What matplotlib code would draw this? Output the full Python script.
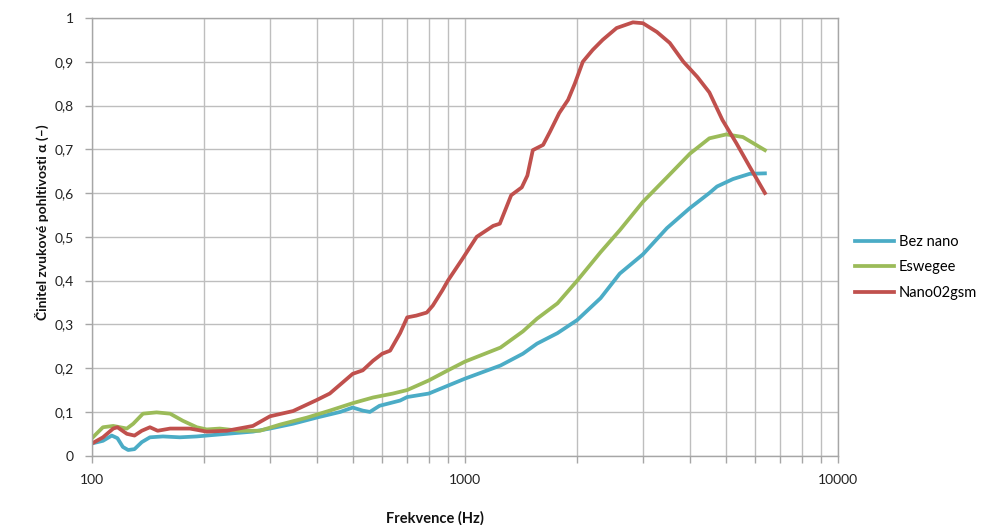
import matplotlib.pyplot as plt
from matplotlib.ticker import FixedLocator, LogLocator, NullFormatter, FuncFormatter

# Bez nano
freq_bez = [100, 107, 113, 117, 121, 125, 130, 136, 143, 155, 172, 191, 203, 230, 270,
            300, 346, 400, 463, 500, 532, 556, 590, 670, 700, 800, 900, 1000, 1245, 1430,
            1560, 1770, 2000, 2310, 2600, 3000, 3480, 4000, 4520, 4740, 5230, 5800, 6370]
alpha_bez = [0.028, 0.034, 0.046, 0.040, 0.020, 0.013, 0.015, 0.031, 0.042, 0.044, 0.042,
             0.044, 0.046, 0.050, 0.055, 0.062, 0.073, 0.087, 0.100, 0.110, 0.103, 0.100,
             0.114, 0.126, 0.134, 0.142, 0.160, 0.176, 0.206, 0.233, 0.256, 0.280, 0.310,
             0.360, 0.416, 0.460, 0.520, 0.565, 0.600, 0.615, 0.632, 0.644, 0.645]

# Eswegee
freq_esw = [100, 107, 114, 119, 124, 129, 137, 149, 162, 175, 191, 203, 220, 249, 282,
            319, 377, 434, 500, 567, 641, 700, 800, 900, 1000, 1245, 1430, 1560, 1770,
            2000, 2310, 2600, 3000, 3480, 4010, 4520, 5020, 5560, 6370]
alpha_esw = [0.040, 0.065, 0.068, 0.065, 0.062, 0.073, 0.096, 0.099, 0.096, 0.080, 0.065,
             0.060, 0.062, 0.057, 0.057, 0.071, 0.087, 0.103, 0.120, 0.133, 0.142, 0.150,
             0.172, 0.195, 0.215, 0.247, 0.284, 0.313, 0.348, 0.400, 0.465, 0.515, 0.580,
             0.636, 0.690, 0.725, 0.734, 0.728, 0.698]

# Nano02gsm
freq_nano = [100, 107, 114, 117, 124, 130, 136, 143, 150, 162, 183, 203, 230, 270, 300,
             346, 400, 434, 500, 532, 567, 600, 630, 670, 700, 740, 790, 820, 870, 900,
             985, 1075, 1190, 1240, 1330, 1420, 1470, 1520, 1620, 1690, 1790, 1890, 1970,
             2070, 2200, 2340, 2550, 2820, 3000, 3270, 3540, 3850, 4200, 4520, 4900,
             5340, 5800, 6370]
alpha_nano = [0.028, 0.042, 0.062, 0.065, 0.050, 0.046, 0.057, 0.065, 0.057, 0.062, 0.062,
              0.055, 0.057, 0.068, 0.090, 0.102, 0.127, 0.142, 0.187, 0.195, 0.217, 0.233,
              0.240, 0.280, 0.316, 0.320, 0.327, 0.343, 0.378, 0.400, 0.450, 0.500, 0.525,
              0.530, 0.595, 0.613, 0.640, 0.698, 0.710, 0.740, 0.783, 0.813, 0.850, 0.900,
              0.927, 0.950, 0.977, 0.990, 0.988, 0.968, 0.943, 0.900, 0.865, 0.830, 0.767,
              0.714, 0.660, 0.600]

y_ticks = [0, 0.1, 0.2, 0.3, 0.4, 0.5, 0.6, 0.7, 0.8, 0.9, 1.0]

plt.rcParams["font.family"] = ["Lato", "DejaVu Sans"]

fig = plt.figure(figsize=(9.87, 5.25), dpi=100)
ax = fig.add_axes([0.0932, 0.132, 0.7558, 0.8338])

ax.plot(freq_bez, alpha_bez, color="#4BACC6", lw=2.7, label="Bez nano")
ax.plot(freq_esw, alpha_esw, color="#9BBB59", lw=2.7, label="Eswegee")
ax.plot(freq_nano, alpha_nano, color="#C0504D", lw=2.7, label="Nano02gsm")

ax.set_xscale("log")
ax.set_xlim(100, 10000)
ax.set_ylim(0, 1)
ax.xaxis.set_major_locator(FixedLocator([100, 1000, 10000]))
ax.xaxis.set_minor_locator(LogLocator(base=10, subs=range(2, 10)))
ax.xaxis.set_minor_formatter(NullFormatter())
ax.xaxis.set_major_formatter(FuncFormatter(lambda v, p: f"{int(round(v))}"))
ax.yaxis.set_major_locator(FixedLocator(y_ticks))
ax.yaxis.set_major_formatter(FuncFormatter(
    lambda v, p: "0" if v == 0 else ("1" if v == 1 else f"{v:.1f}".replace(".", ","))))

ax.grid(True, which="both", axis="x", color="#BEBEBE", lw=1.0)
ax.grid(True, which="major", axis="y", color="#BEBEBE", lw=1.0)
ax.set_axisbelow(True)
for s in ax.spines.values():
    s.set_color("#A6A6A6")
    s.set_linewidth(1.0)
ax.tick_params(which="both", direction="out", color="#A6A6A6", length=5, width=1,
               labelsize=10, labelcolor="#222222")
ax.tick_params(axis="x", which="major", pad=8)
ax.tick_params(axis="y", which="major", pad=8)

fig.text(0.042, 0.577, "Činitel zvukové pohltivosti α (–)", rotation=90,
         ha="center", va="center", fontsize=10, fontweight="bold", color="#111111")
fig.text(0.441, 0.013, "Frekvence (Hz)", ha="center", va="center",
         fontsize=10.5, fontweight="bold", color="#111111")

ax.legend(loc="center left", bbox_to_anchor=(1.005, 0.43), frameon=False,
          fontsize=10.5, handlelength=2.7, handletextpad=0.3, labelspacing=0.8)

fig.savefig("out.png", dpi=100)
